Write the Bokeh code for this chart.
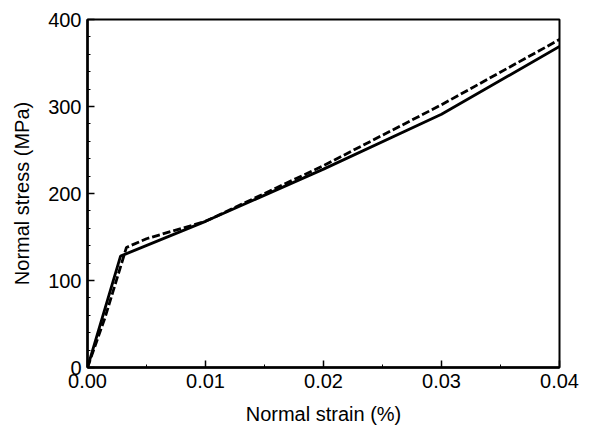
from bokeh.plotting import figure
from bokeh.models import FixedTicker, PrintfTickFormatter, Range1d
from bokeh.embed import file_html
from bokeh.resources import INLINE

# Data
solid_strain = [0.0, 0.0028, 0.01, 0.02, 0.03, 0.04]
solid_stress = [0.0, 128, 168, 228, 291, 369]
dashed_strain = [0.0, 0.0015, 0.0033, 0.005, 0.01, 0.02, 0.03, 0.04]
dashed_stress = [0.0, 58, 138, 148, 168, 232, 302, 377]

x_ticks = [0.0, 0.01, 0.02, 0.03, 0.04]
x_minor = [0.005, 0.015, 0.025, 0.035]
y_ticks = [0, 100, 200, 300, 400]
y_minor = [20, 40, 60, 80, 120, 140, 160, 180, 220, 240, 260, 280, 320, 340, 360, 380]

p = figure(frame_width=472, frame_height=348, output_backend="svg", toolbar_location=None,
           x_range=Range1d(0, 0.04), y_range=Range1d(0, 400),
           min_border_left=87, min_border_top=19, min_border_right=22, min_border_bottom=56)
p.background_fill_color = "white"
p.border_fill_color = "white"
p.outline_line_color = "black"
p.outline_line_width = 2
p.xgrid.visible = False
p.ygrid.visible = False

p.line(solid_strain, solid_stress, line_color="black", line_width=2.8)
p.line(dashed_strain, dashed_stress, line_color="black", line_width=2.8, line_dash="8 3")

for ax in (p.xaxis[0], p.yaxis[0]):
    ax.axis_line_width = 2.5
    ax.axis_line_color = "black"
    ax.major_tick_in = 7
    ax.major_tick_out = 0
    ax.minor_tick_in = 3
    ax.minor_tick_out = 0
    ax.major_tick_line_width = 1.5
    ax.major_label_text_font = "Liberation Sans"
    ax.major_label_text_font_size = "20px"
    ax.major_label_text_color = "black"
    ax.axis_label_text_font = "Liberation Sans"
    ax.axis_label_text_font_size = "20px"
    ax.axis_label_text_font_style = "normal"
    ax.axis_label_text_color = "black"

p.xaxis[0].ticker = FixedTicker(ticks=x_ticks, minor_ticks=x_minor)
p.xaxis[0].formatter = PrintfTickFormatter(format="%.2f")
p.xaxis[0].axis_label = "Normal strain (%)"
p.xaxis[0].major_label_standoff = 6
p.xaxis[0].axis_label_standoff = 12

p.yaxis[0].ticker = FixedTicker(ticks=y_ticks, minor_ticks=y_minor)
p.yaxis[0].formatter = PrintfTickFormatter(format="%d")
p.yaxis[0].axis_label = "Normal stress (MPa)"
p.yaxis[0].major_label_standoff = 6
p.yaxis[0].axis_label_standoff = 12

open("out.html", "w").write(file_html(p, INLINE))
